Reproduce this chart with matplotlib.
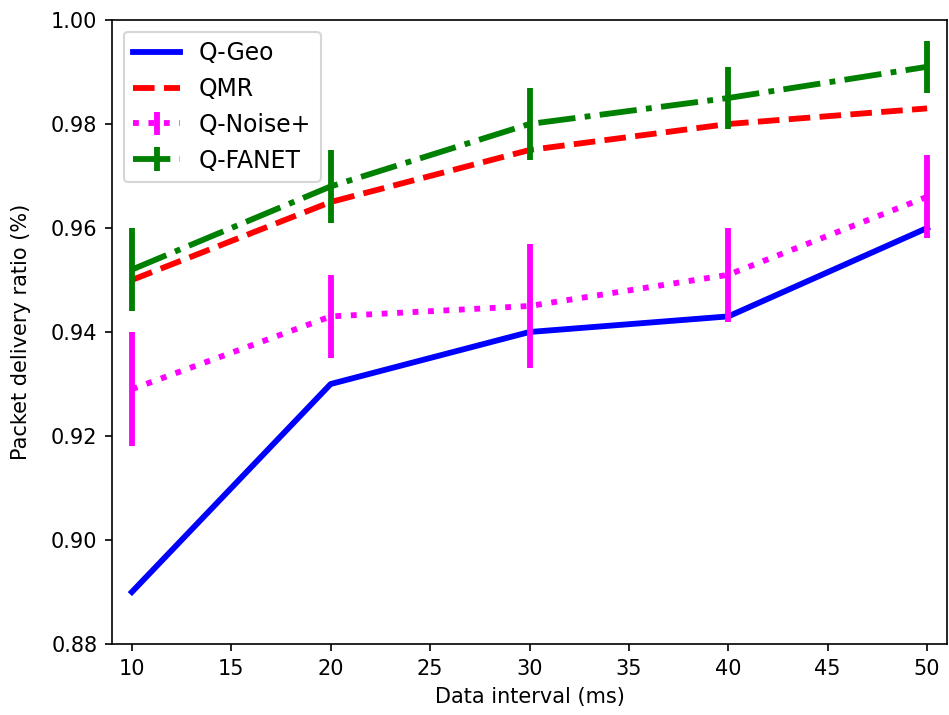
import matplotlib
matplotlib.use("Agg")
import matplotlib.pyplot as plt

x = [10, 20, 30, 40, 50]
q_geo = [0.890, 0.930, 0.940, 0.943, 0.960]
qmr = [0.950, 0.965, 0.975, 0.980, 0.983]
q_noise = [0.929, 0.943, 0.945, 0.951, 0.966]
q_noise_err = [0.011, 0.008, 0.012, 0.009, 0.008]
q_fanet = [0.952, 0.968, 0.980, 0.985, 0.991]
q_fanet_err = [0.008, 0.007, 0.007, 0.006, 0.005]

fig = plt.figure(figsize=(949/150, 715/150), dpi=150)
ax = fig.add_axes([112/949, 1-644/715, (947-112)/949, (644-20)/715])

ax.plot(x, q_geo, color='blue', linestyle='-', linewidth=2.8, label='Q-Geo')
ax.plot(x, qmr, color='red', linestyle='--', linewidth=2.8, label='QMR')
ax.errorbar(x, q_noise, yerr=q_noise_err, color='magenta', linestyle=':',
            linewidth=2.8, elinewidth=2.8, label='Q-Noise+')
ax.errorbar(x, q_fanet, yerr=q_fanet_err, color='green', linestyle='-.',
            linewidth=2.8, elinewidth=2.8, label='Q-FANET')

ax.set_xlim(9, 51)
ax.set_ylim(0.88, 1.00)
ax.set_xticks([10, 15, 20, 25, 30, 35, 40, 45, 50])
ax.set_yticks([0.88, 0.90, 0.92, 0.94, 0.96, 0.98, 1.00])
ax.set_xlabel('Data interval (ms)')
ax.set_ylabel('Packet delivery ratio (%)')
ax.yaxis.set_label_coords(-0.097, 0.5)
ax.legend(loc='upper left', fontsize=11.3)

fig.savefig('out.png', dpi=150)
